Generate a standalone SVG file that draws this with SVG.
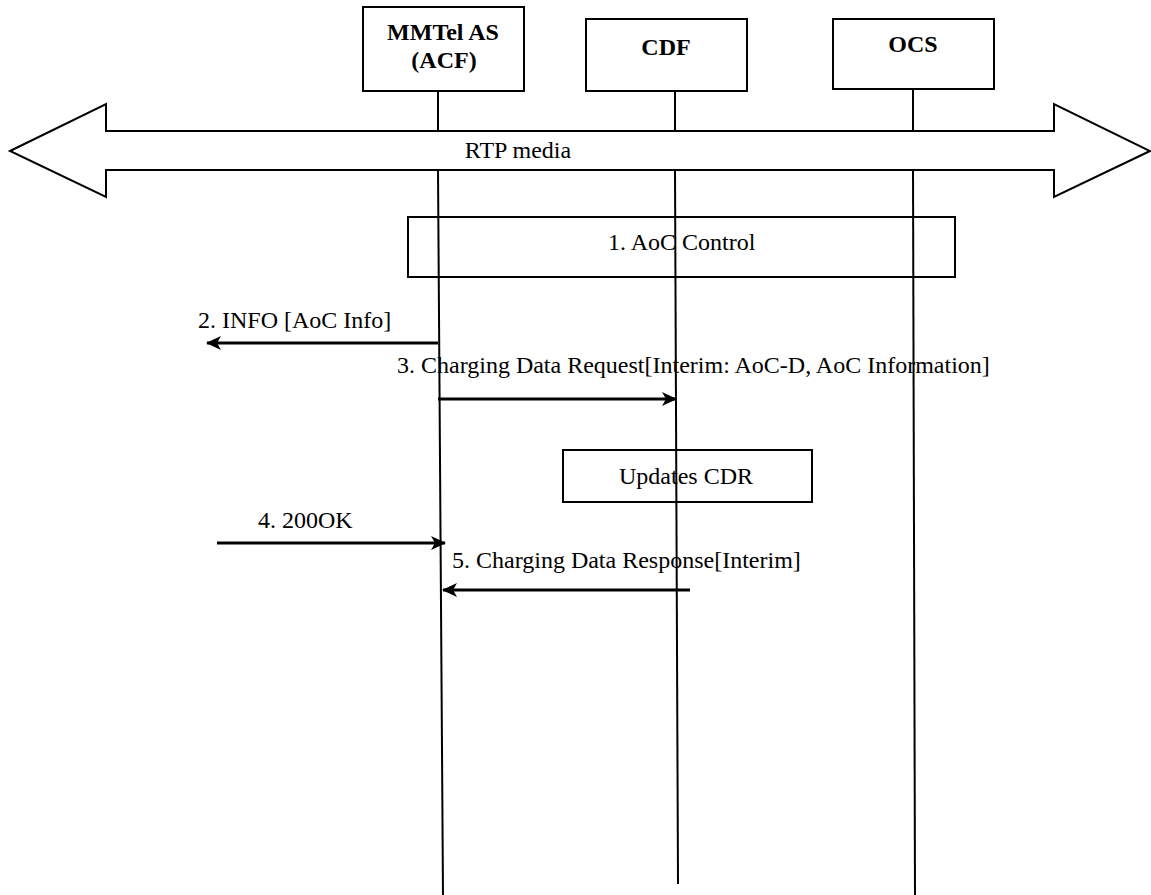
<svg xmlns="http://www.w3.org/2000/svg" width="1151" height="895" viewBox="0 0 1151 895">
<style>
.box{fill:none;stroke:#000;stroke-width:2}
.ent{fill:#fff;stroke:#000;stroke-width:2}
.life{stroke:#000;stroke-width:2;fill:none}
.msg{stroke:#000;stroke-width:3;fill:none;marker-end:url(#ah)}
.t{font-family:"Liberation Serif","Times New Roman",serif;font-size:24px;fill:#000}
.tb{font-family:"Liberation Serif","Times New Roman",serif;font-size:24px;font-weight:bold;fill:#000;text-anchor:middle}
</style>
<defs>
<marker id="ah" viewBox="0 0 15 14" refX="14" refY="7" markerWidth="15" markerHeight="14" markerUnits="userSpaceOnUse" orient="auto">
<path d="M0,0 L15,7 L0,14 L4,7 z" fill="#000"/>
</marker>
</defs>
<rect width="1151" height="895" fill="#fff"/>
<g id="mmtel">
<rect class="ent" x="363" y="7" width="161" height="84"/>
<text class="tb" x="443" y="40">MMTel AS</text>
<text class="tb" x="444" y="68">(ACF)</text>
<line class="life" x1="438" y1="91" x2="438" y2="131"/>
<line class="life" x1="438" y1="170" x2="443" y2="895"/>
</g>
<g id="cdf">
<rect class="ent" x="586" y="19" width="161" height="72"/>
<text class="tb" x="666" y="55">CDF</text>
<line class="life" x1="675" y1="91" x2="675" y2="131"/>
<line class="life" x1="675" y1="170" x2="678" y2="884"/>
</g>
<g id="ocs">
<rect class="ent" x="833" y="19" width="161" height="70"/>
<text class="tb" x="913" y="52">OCS</text>
<line class="life" x1="913" y1="89" x2="913" y2="131"/>
<line class="life" x1="913" y1="170" x2="915" y2="895"/>
</g>
<g id="rtp">
<polygon class="ent" points="10,151 106,104 106,131 1054,131 1054,104 1150,151 1054,197 1054,170 106,170 106,197"/>
<text class="t" x="518" y="158" text-anchor="middle">RTP media</text>
</g>
<g id="aoc-control">
<rect class="box" x="408" y="217" width="547" height="60"/>
<text class="t" x="608" y="250">1. AoC Control</text>
</g>
<g id="updates-cdr">
<rect class="box" x="563" y="450" width="249" height="52"/>
<text class="t" x="619" y="484">Updates CDR</text>
</g>
<g id="connectors">
<line class="msg" x1="438" y1="343" x2="207" y2="343"/>
<text class="t" x="198" y="328">2. INFO [AoC Info]</text>
<line class="msg" x1="438" y1="399" x2="676" y2="399"/>
<text class="t" x="397" y="373">3. Charging Data Request[Interim: AoC-D, AoC Information]</text>
<line class="msg" x1="217" y1="543" x2="445" y2="543"/>
<text class="t" x="258" y="528">4. 200OK</text>
<line class="msg" x1="690" y1="590" x2="443" y2="590"/>
<text class="t" x="452" y="568">5. Charging Data Response[Interim]</text>
</g>
</svg>
